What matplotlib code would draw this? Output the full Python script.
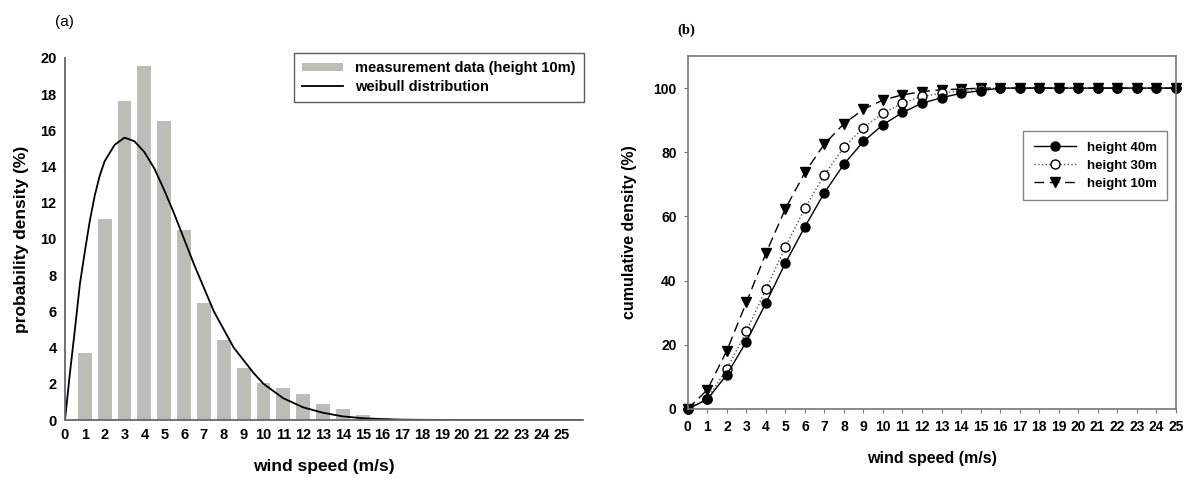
import numpy as np
import matplotlib.pyplot as plt

plt.rcParams['font.family'] = ['Liberation Sans', 'DejaVu Sans']

# (a) measured probability density, height 10 m
speed_bins = [1, 2, 3, 4, 5, 6, 7, 8, 9, 10, 11, 12, 13, 14, 15, 16, 17]
density = [3.7, 11.1, 17.6, 19.55, 16.5, 10.5, 6.45, 4.4, 2.9, 2.05,
           1.75, 1.45, 0.9, 0.6, 0.3, 0.12, 0.05]

# weibull fit
weibull_x = [0, 0.25, 0.5, 0.75, 1, 1.25, 1.5, 1.75, 2, 2.5, 3, 3.5, 4, 4.5,
             5, 5.5, 6, 6.5, 7, 7.5, 8, 8.5, 9, 9.5, 10, 10.5, 11, 12, 13,
             14, 15, 16, 17, 18, 20, 26]
weibull_y = [0, 2.6, 5.0, 7.5, 9.3, 11.0, 12.4, 13.5, 14.3, 15.2, 15.6, 15.4,
             14.8, 13.9, 12.7, 11.4, 10.0, 8.6, 7.3, 6.0, 5.0, 4.0, 3.3, 2.6,
             2.0, 1.6, 1.2, 0.7, 0.4, 0.2, 0.1, 0.05, 0.02, 0.01, 0, 0]

# (b) cumulative density
speeds = list(range(26))
cum_40 = [0, 3, 10.7, 21, 33, 45.5, 56.8, 67.4, 76.3, 83.4, 88.6, 92.4, 95.3,
          97, 98.4, 99.2, 100, 100, 100, 100, 100, 100, 100, 100, 100, 100]
cum_30 = [0, 3.2, 12.5, 24.2, 37.3, 50.5, 62.6, 73, 81.6, 87.7, 92.1, 95.3,
          97.4, 98.4, 99.2, 99.7, 100, 100, 100, 100, 100, 100, 100, 100, 100, 100]
cum_10 = [0, 6, 18.2, 33.2, 48.5, 62.4, 73.7, 82.6, 88.9, 93.4, 96.3, 97.9,
          98.9, 99.5, 99.7, 100, 100, 100, 100, 100, 100, 100, 100, 100, 100, 100]

fig = plt.figure(figsize=(11.9, 4.78), dpi=100)

# ---- panel (a)
ax1 = fig.add_axes([0.0546, 0.1213, 0.4354, 0.7574])
bars = ax1.bar(speed_bins, density, width=0.7, color='#bdbdb7', edgecolor='none',
               label='measurement data (height 10m)')
line, = ax1.plot(weibull_x, weibull_y, color='black', lw=1.3,
                 label='weibull distribution')
ax1.set_xlim(0, 26.1)
ax1.set_ylim(0, 20)
ax1.set_xticks(range(26))
ax1.set_yticks(range(0, 21, 2))
for s in ['top', 'right']:
    ax1.spines[s].set_visible(False)
for s in ['left', 'bottom']:
    ax1.spines[s].set_color('#666666')
    ax1.spines[s].set_linewidth(1.3)
ax1.tick_params(length=0, labelsize=10.5, pad=6)
for lab in ax1.get_xticklabels() + ax1.get_yticklabels():
    lab.set_fontweight('bold')
ax1.set_xlabel('wind speed (m/s)', fontsize=12.5, fontweight='bold', labelpad=12)
ax1.set_ylabel('probability density (%)', fontsize=12.5, fontweight='bold', labelpad=8)
leg1 = ax1.legend([bars, line], ['measurement data (height 10m)', 'weibull distribution'],
                  loc='upper left', bbox_to_anchor=(0.427, 1.035),
                  prop={'weight': 'bold', 'size': 10.5}, fancybox=False,
                  edgecolor='#333333', handlelength=2.8, handleheight=0.5,
                  borderpad=0.6, labelspacing=0.3)
leg1.get_frame().set_linewidth(1.0)
fig.text(0.046, 0.953, '(a)', fontsize=11, ha='left', va='center')

# ---- panel (b)
ax2 = fig.add_axes([0.578, 0.1444, 0.410, 0.7384])
ax2.plot(speeds, cum_10, color='black', lw=1, ls=(0, (7, 4)), marker='v',
         markersize=6.5, markerfacecolor='black', label='height 10m', clip_on=False)
ax2.plot(speeds, cum_30, color='#555555', lw=1, ls=':', marker='o',
         markersize=6.5, markerfacecolor='white', markeredgecolor='black',
         label='height 30m', clip_on=False)
ax2.plot(speeds, cum_40, color='black', lw=1, ls='-', marker='o',
         markersize=6.5, markerfacecolor='black', label='height 40m', clip_on=False)
ax2.set_xlim(0, 25)
ax2.set_ylim(0, 110)
ax2.set_xticks(range(26))
ax2.set_yticks(range(0, 101, 20))
for s in ax2.spines.values():
    s.set_color('#777777')
    s.set_linewidth(1.2)
ax2.tick_params(direction='out', length=3, color='#777777', labelsize=10, pad=5)
for lab in ax2.get_xticklabels() + ax2.get_yticklabels():
    lab.set_fontweight('bold')
ax2.set_xlabel('wind speed (m/s)', fontsize=11.5, fontweight='bold', labelpad=12)
ax2.set_ylabel('cumulative density (%)', fontsize=11.5, fontweight='bold', labelpad=12)
h, l = ax2.get_legend_handles_labels()
leg2 = ax2.legend(h[::-1], l[::-1], loc='upper right', bbox_to_anchor=(0.996, 0.807),
                  prop={'weight': 'bold', 'size': 9.5}, fancybox=False,
                  edgecolor='#666666', handlelength=3.2, borderpad=0.8,
                  labelspacing=0.45)
leg2.get_frame().set_linewidth(1.0)
fig.text(0.577, 0.937, '(b)', fontsize=10.5, fontweight='bold',
         family=['Liberation Serif', 'DejaVu Serif'], ha='center', va='center')

plt.savefig('out.png', dpi=100)
